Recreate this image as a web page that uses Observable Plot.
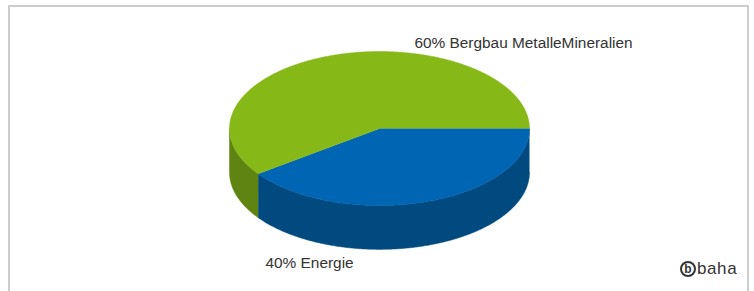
<!DOCTYPE html>
<html>
<head>
<meta charset="utf-8">
<script src="https://cdn.jsdelivr.net/npm/d3@7"></script>
<script src="https://cdn.jsdelivr.net/npm/@observablehq/plot@0.6"></script>
<style>
  html, body { margin: 0; padding: 0; background: #fff; }
  #wrap { position: relative; width: 754px; height: 291px; overflow: hidden; }
  #frame { position: absolute; left: 8px; top: 5px; width: 741px; height: 320px;
           border: 2px solid #cdcdcd; border-bottom: none; box-sizing: border-box; }
  #chart { position: absolute; left: 0; top: 0; }
  #logo { position: absolute; left: 680px; top: 259px; font-family: "Liberation Sans", Arial, sans-serif;
          font-size: 17px; color: #333; display: flex; align-items: center; letter-spacing: 0.6px; }
  #logo .c { display: inline-flex; width: 16px; height: 16px; border: 2px solid #333; border-radius: 50%;
             box-sizing: border-box; align-items: center; justify-content: center; font-weight: bold;
             font-size: 12px; margin-right: 1px; line-height: 1; letter-spacing: 0; }
</style>
</head>
<body>
<div id="wrap">
  <div id="frame"></div>
  <div id="chart"></div>
  <div id="logo"><span class="c">b</span><span>baha</span></div>
</div>
<script>
// ---- data ----
const categories = ["Energie", "Bergbau MetalleMineralien"];
const shares = [40, 60];
const topColors = ["#0066b3", "#86b817"];
const sideColors = ["#004a80", "#5f8412"];

// ---- geometry from data ----
const depth = 0.57; // wall depth in y units (1 unit = ellipse half-height)
const pie = d3.pie().sort(null).value(d => d.value)
  .startAngle(Math.PI / 2).endAngle(Math.PI / 2 + 2 * Math.PI);
const arcs = pie(categories.map((c, i) => ({name: c, value: shares[i], i})));

const px = a => Math.sin(a), py = a => -Math.cos(a);
const step = Math.PI / 360;

const topPts = [];
const sidePts = [];
arcs.forEach(arc => {
  const i = arc.data.i;
  topPts.push({id: "t" + i, x: 0, y: 0, fill: topColors[i]});
  const n = Math.max(2, Math.ceil((arc.endAngle - arc.startAngle) / step));
  for (let k = 0; k <= n; k++) {
    const a = arc.startAngle + (arc.endAngle - arc.startAngle) * k / n;
    topPts.push({id: "t" + i, x: px(a), y: py(a), fill: topColors[i]});
  }
  const a0 = Math.max(arc.startAngle, Math.PI / 2);
  const a1 = Math.min(arc.endAngle, 3 * Math.PI / 2);
  if (a1 > a0) {
    const m = Math.max(2, Math.ceil((a1 - a0) / step));
    const upper = [], lower = [];
    for (let k = 0; k <= m; k++) {
      const a = a0 + (a1 - a0) * k / m;
      upper.push({id: "s" + i, x: px(a), y: py(a), fill: sideColors[i]});
      lower.push({id: "s" + i, x: px(a), y: py(a) + depth, fill: sideColors[i]});
    }
    sidePts.push(...upper, ...lower.reverse());
  }
});

const labelData = arcs.map(arc => ({label: `${arc.data.value}% ${arc.data.name}`, i: arc.data.i}));

const chart = Plot.plot({
  width: 754,
  height: 291,
  margin: 0,
  x: {domain: [-1, 1], range: [229, 529], axis: null},
  y: {domain: [-1, 1], range: [51, 205], axis: null},
  marks: [
    Plot.line(sidePts, {x: "x", y: "y", z: "id", fill: "fill", stroke: "fill", strokeWidth: 0.5, curve: "linear"}),
    Plot.line(topPts, {x: "x", y: "y", z: "id", fill: "fill", stroke: "fill", strokeWidth: 0.5, curve: "linear"}),
    Plot.text(labelData, {
      x: d => d.i === 1 ? 0.233 : -0.76,
      y: d => d.i === 1 ? -1.115 : 1.745,
      text: "label",
      textAnchor: "start",
      lineAnchor: "middle",
      fontSize: 15.4,
      fill: "#333",
      fontFamily: "'Liberation Sans', Arial, sans-serif"
    })
  ]
});
document.getElementById("chart").appendChild(chart);
</script>
</body>
</html>
